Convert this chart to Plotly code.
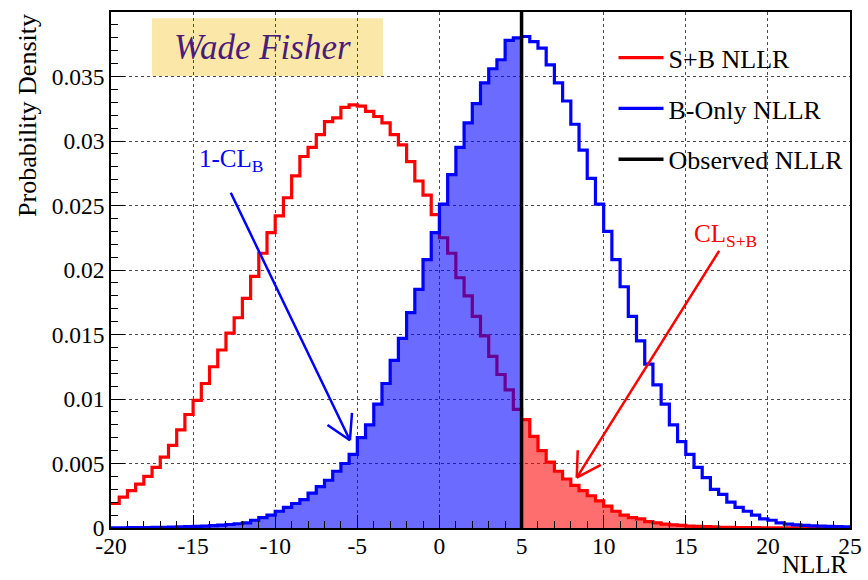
import math
import numpy as np
import plotly.graph_objects as go

# Histogram binning of the NLLR axis
bin_low = -20.0
bin_width = 0.5
observed_nllr = 5.0

# S+B pseudo-experiment NLLR distribution (probability per bin)
sb_density = [
    0.0019, 0.0024, 0.0029, 0.0034, 0.0040, 0.0047, 0.0055, 0.0064, 0.0076, 0.0088,
    0.0099, 0.0112, 0.0125, 0.0138, 0.0151, 0.0163, 0.0178, 0.0195, 0.0213, 0.0229,
    0.0242, 0.0256, 0.0273, 0.0288, 0.0295, 0.0305, 0.0315, 0.0318, 0.0326, 0.0328,
    0.0327, 0.0323, 0.0319, 0.0314, 0.0305, 0.0297, 0.0284, 0.0269, 0.0258, 0.0243,
    0.0225, 0.0213, 0.0194, 0.0180, 0.0164, 0.0149, 0.0133, 0.0119, 0.0107, 0.0092,
    0.0084, 0.0071, 0.0060, 0.0051, 0.0044, 0.0038, 0.0033, 0.0029, 0.0025, 0.0021,
    0.0017, 0.0013, 0.0010, 0.0008, 0.0007, 0.0005, 0.0004, 0.0003, 0.00025, 0.0002,
    0.00015, 0.00012, 0.0001, 0.00008, 0.00006, 0.00005, 0.00004, 0.00003, 0.00003, 0.00002,
    0.00002, 0.00002, 0.00001, 0.00001, 0.00001, 0.00001, 0.00001, 0.0, 0.0, 0.0,
]

# Background-only pseudo-experiment NLLR distribution (probability per bin)
b_density = [
    0.00002, 0.00002, 0.00003, 0.00003, 0.00004, 0.00005, 0.00006, 0.00007, 0.00008, 0.0001,
    0.00012, 0.00015, 0.00018, 0.00022, 0.00027, 0.00033, 0.0004, 0.0006, 0.0008, 0.0010,
    0.0013, 0.0016, 0.0019, 0.0022, 0.0027, 0.0032, 0.0037, 0.0044, 0.0050, 0.0057,
    0.0070, 0.0080, 0.0096, 0.0112, 0.0130, 0.0147, 0.0167, 0.0185, 0.0208, 0.0229,
    0.0251, 0.0274, 0.0295, 0.0314, 0.0329, 0.0345, 0.0356, 0.0363, 0.0378, 0.0380,
    0.0381, 0.0377, 0.0372, 0.0359, 0.0345, 0.0331, 0.0313, 0.0293, 0.0271, 0.0251,
    0.0230, 0.0208, 0.0187, 0.0164, 0.0145, 0.0127, 0.0111, 0.0096, 0.0080, 0.0067,
    0.0057, 0.0047, 0.0039, 0.0030, 0.0026, 0.0020, 0.0016, 0.0013, 0.0010, 0.0007,
    0.0006, 0.0004, 0.0003, 0.00025, 0.0002, 0.00017, 0.00014, 0.00012, 0.0001, 0.00008,
]

x_tick_vals = [-20, -15, -10, -5, 0, 5, 10, 15, 20, 25]
x_tick_text = ["-20", "-15", "-10", "-5", "0", "5", "10", "15", "20", "25"]
y_tick_vals = [0, 0.005, 0.01, 0.015, 0.02, 0.025, 0.03, 0.035, 0.04]
y_tick_text = ["0", "0.005", "0.01", "0.015", "0.02", "0.025", "0.03", "0.035", "0.04"]

x_range = [-20, 25]
y_range = [0, 0.04]

SERIF = "Liberation Serif"
RED = "#ff0000"
BLUE = "#0000ff"

WIDTH, HEIGHT = 868, 580
MARGIN = dict(l=111, r=18, t=12, b=52)
plot_w = WIDTH - MARGIN["l"] - MARGIN["r"]
plot_h = HEIGHT - MARGIN["t"] - MARGIN["b"]

edges = bin_low + bin_width * np.arange(len(sb_density) + 1)
split = int(round((observed_nllr - bin_low) / bin_width))


def step_xy(values, first, last):
    """Edges and heights of bins [first, last) for an 'hv' step trace."""
    vals = list(values[first:last])
    return edges[first:last + 1], vals + [vals[-1]]


def open_arrow(tail, tip, color, wing=29, spread=30, width=2.5):
    """Shaft plus two thin wings (ROOT-style open arrowhead) as annotations."""
    sx = plot_w / (x_range[1] - x_range[0])
    sy = plot_h / (y_range[1] - y_range[0])
    # back-direction from tip to tail, in screen pixels (y grows downward)
    bx = (tail[0] - tip[0]) * sx
    by = -(tail[1] - tip[1]) * sy
    n = math.hypot(bx, by)
    bx, by = bx / n, by / n
    items = [dict(text="", x=tip[0], y=tip[1], ax=tail[0], ay=tail[1],
                  axref="x", ayref="y", showarrow=True, arrowhead=0,
                  arrowwidth=width, arrowcolor=color, standoff=0)]
    for sgn in (1, -1):
        a = math.radians(spread) * sgn
        wx = math.cos(a) * bx - math.sin(a) * by
        wy = math.sin(a) * bx + math.cos(a) * by
        items.append(dict(text="", x=tip[0], y=tip[1], ax=wing * wx, ay=wing * wy,
                          showarrow=True, arrowhead=0, arrowwidth=width,
                          arrowcolor=color, standoff=0))
    return items


fig = go.Figure()

# CL_{s+b}: S+B area above the observed value
xs, ys = step_xy(sb_density, split, len(sb_density))
fig.add_trace(go.Scatter(x=xs, y=ys, mode="lines", line=dict(shape="hv", width=0),
                         fill="tozeroy", fillcolor="rgba(255,0,0,0.57)",
                         showlegend=False, hoverinfo="skip"))

# S+B outline
xs, ys = step_xy(sb_density, 0, len(sb_density))
fig.add_trace(go.Scatter(x=xs, y=ys, mode="lines", name="S+B NLLR",
                         line=dict(shape="hv", color=RED, width=3.2),
                         legendgroup="sb"))

# 1-CL_b: B-only area below the observed value
xs, ys = step_xy(b_density, 0, split)
fig.add_trace(go.Scatter(x=xs, y=ys, mode="lines", line=dict(shape="hv", width=0),
                         fill="tozeroy", fillcolor="rgba(0,0,255,0.58)",
                         showlegend=False, hoverinfo="skip"))

# B-only outline
xs, ys = step_xy(b_density, 0, len(b_density))
fig.add_trace(go.Scatter(x=xs, y=ys, mode="lines", name="B-Only NLLR",
                         line=dict(shape="hv", color=BLUE, width=3.2),
                         legendgroup="b"))

# Observed NLLR
fig.add_trace(go.Scatter(x=[observed_nllr, observed_nllr], y=y_range, mode="lines",
                         name="Observed NLLR", line=dict(color="black", width=3.5),
                         legendgroup="obs"))

axis_common = dict(
    showline=True, mirror=True, linecolor="black", linewidth=1.5,
    ticks="inside", tickcolor="black", tickwidth=1.2,
    showgrid=True, gridcolor="#4a4a4a", griddash="dot", gridwidth=1,
    zeroline=False, automargin=False,
    tickfont=dict(family=SERIF, size=23.5, color="black"),
)

fig.update_xaxes(range=x_range, tickmode="array", tickvals=x_tick_vals, ticktext=x_tick_text,
                 ticklen=13, ticklabelstandoff=-4,
                 minor=dict(tickmode="linear", tick0=-20, dtick=1, ticklen=7,
                            ticks="inside", tickcolor="black", showgrid=False),
                 **axis_common)
fig.update_yaxes(range=y_range, tickmode="array", tickvals=y_tick_vals, ticktext=y_tick_text,
                 ticklen=14,
                 minor=dict(tickmode="linear", tick0=0, dtick=0.001, ticklen=7,
                            ticks="inside", tickcolor="black", showgrid=False),
                 **axis_common)

annotations = [
    # axis titles
    dict(text="NLLR", xref="paper", yref="paper", x=1.0, y=-0.1,
         xanchor="right", yanchor="bottom", showarrow=False,
         font=dict(family=SERIF, size=25, color="black")),
    dict(text="Probability Density", xref="paper", yref="paper", x=-0.113, y=1.0,
         xanchor="center", yanchor="top", textangle=-90, showarrow=False,
         font=dict(family=SERIF, size=26, color="black")),
    # author tag
    dict(text="<i>Wade Fisher</i>", xref="paper", yref="paper", x=0.205, y=0.932,
         xanchor="center", yanchor="middle", showarrow=False,
         font=dict(family=SERIF, size=35, color="#4b1c7c")),
    # confidence-level labels
    dict(text="1-CL<sub>B</sub>", x=-14.78, y=0.0285, xanchor="left", yanchor="middle",
         showarrow=False, font=dict(family=SERIF, size=25, color=BLUE)),
    dict(text="CL<sub>S+B</sub>", x=15.39, y=0.0227, xanchor="left", yanchor="middle",
         showarrow=False, font=dict(family=SERIF, size=25, color=RED)),
]
# arrows pointing into the shaded areas
annotations += open_arrow(tail=(-12.75, 0.0261), tip=(-5.45, 0.0068), color=BLUE)
annotations += open_arrow(tail=(17.09, 0.0216), tip=(8.36, 0.0039), color=RED)

fig.update_layout(
    width=WIDTH, height=HEIGHT,
    margin=dict(**MARGIN, autoexpand=False),
    paper_bgcolor="white", plot_bgcolor="white",
    font=dict(family=SERIF, color="black"),
    annotations=annotations,
    shapes=[dict(type="rect", xref="paper", yref="paper", x0=0.0555, x1=0.368,
                 y0=0.876, y1=0.988, fillcolor="#fbe8a9", line=dict(width=0),
                 layer="below")],
    legend=dict(x=0.680, y=0.957, xanchor="left", yanchor="top",
                bgcolor="rgba(0,0,0,0)", borderwidth=0,
                font=dict(family=SERIF, size=26, color="black"),
                traceorder="grouped", tracegroupgap=14, itemwidth=45),
)

fig.write_html("out.html")
